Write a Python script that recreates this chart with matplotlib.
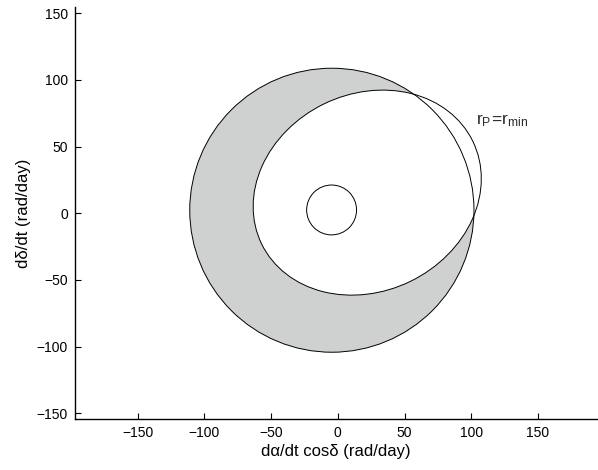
import matplotlib
matplotlib.use('Agg')
import matplotlib.pyplot as plt
from matplotlib.patches import Circle, Ellipse

plt.rcParams['font.family'] = ['Liberation Sans', 'DejaVu Sans']
plt.rcParams['mathtext.fontset'] = 'custom'
plt.rcParams['mathtext.rm'] = 'Liberation Sans'

# outer circle (centre x, centre y, radius)
outer_circle = [-4.5, 2.3, 106.5]
# small circle round the origin
inner_circle = [-4.7, 2.5, 18.7]
# r_P = r_min curve: centre x, centre y, width, height, angle (deg)
rp_ellipse = [22.0, 15.5, 176.0, 148.0, 26.0]

x_ticks = [-150, -100, -50, 0, 50, 100, 150]
y_ticks = [-150, -100, -50, 0, 50, 100, 150]
x_lim = (-197, 194)
y_lim = (-154.5, 154.5)

gray = '#cfd1d1'
lw = 0.7

fig = plt.figure(figsize=(5.98, 4.70), dpi=100)
ax = fig.add_axes([0.1254, 0.1079, 0.8725, 0.8766])

cx, cy, r = outer_circle
ex, ey, ew, eh, ea = rp_ellipse
ax.add_patch(Circle((cx, cy), r, facecolor=gray, edgecolor='none', zorder=1))
ax.add_patch(Ellipse((ex, ey), ew, eh, angle=ea,
        facecolor='white', edgecolor='none', zorder=2))
ax.add_patch(Circle((cx, cy), r, facecolor='none', edgecolor='black',
        linewidth=lw, zorder=3))
ax.add_patch(Ellipse((ex, ey), ew, eh, angle=ea,
        facecolor='none', edgecolor='black', linewidth=lw, zorder=3))
sx, sy, sr = inner_circle
ax.add_patch(Circle((sx, sy), sr, facecolor='none', edgecolor='black',
        linewidth=lw, zorder=3))

ax.text(103.5, 67, r'$\mathregular{r_P\!=\!r_{min}}$', fontsize=12.5,
        color='#2a2a2a', ha='left', va='baseline')

ax.set_xlim(*x_lim)
ax.set_ylim(*y_lim)
ax.set_xticks(x_ticks)
ax.set_yticks(y_ticks)
ax.spines['top'].set_visible(False)
ax.spines['right'].set_visible(False)
for s in ('left', 'bottom'):
    ax.spines[s].set_linewidth(1.0)
ax.tick_params(direction='in', length=4.5, width=0.8, labelsize=10,
        pad=5, colors='black')
ax.set_xlabel('dα/dt cosδ (rad/day)', fontsize=12, labelpad=3)
ax.set_ylabel('dδ/dt (rad/day)', fontsize=12, labelpad=4)

fig.savefig('out.png', dpi=100)
